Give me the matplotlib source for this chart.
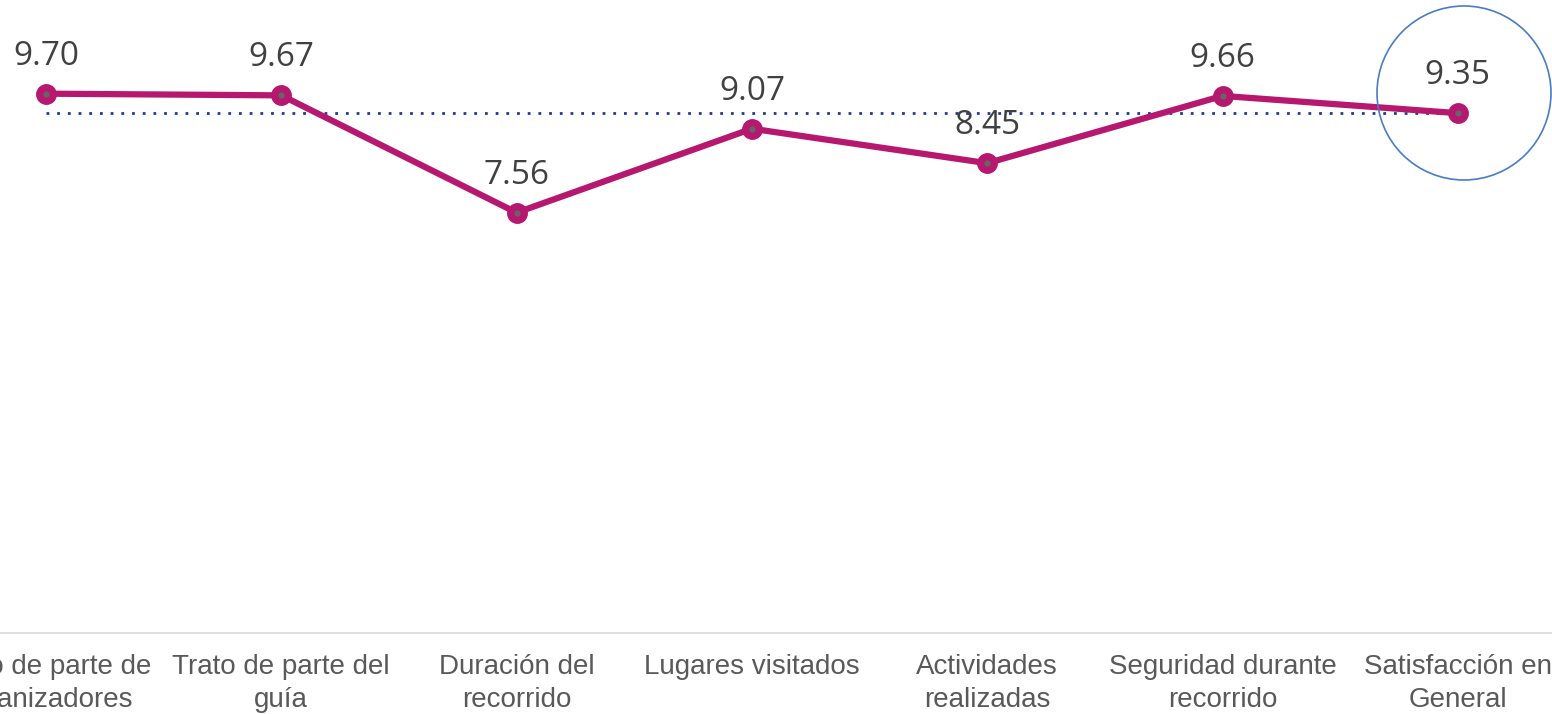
import numpy as np
import matplotlib.pyplot as plt
from matplotlib.patches import Circle

# datos
categorias = ["Trato de parte de\norganizadores", "Trato de parte del\nguía",
              "Duración del\nrecorrido", "Lugares visitados",
              "Actividades\nrealizadas", "Seguridad durante\nrecorrido",
              "Satisfacción en\nGeneral"]
valores = [9.70, 9.67, 7.56, 9.07, 8.45, 9.66, 9.35]
promedio = [9.35] * len(categorias)

W, H = 1552, 714
fig = plt.figure(figsize=(W / 100, H / 100), dpi=100)

# posiciones en pixeles: categoria 0 en x=46, paso 235.3; y=0 en 633, 55.6 px por unidad
paso = 235.3
x0 = 46 - paso / 2
ancho = paso * len(categorias)
y_base = 633
px_u = 55.6
ymax = 12
alto = ymax * px_u
ax = fig.add_axes([x0 / W, (H - y_base) / H, ancho / W, alto / H])
ax.set_xlim(-0.5, len(categorias) - 0.5)
ax.set_ylim(0, ymax)

x = np.arange(len(categorias))
color = "#B5186E"

ax.plot(x, promedio, color="#1F3A8F", lw=2.0, linestyle=(0, (1, 2.85)),
        dash_capstyle="butt", zorder=2)
ax.plot(x, valores, color=color, lw=4.5, marker="o", markersize=14,
        markerfacecolor=color, markeredgecolor=color, zorder=3,
        solid_capstyle="round")
ax.plot(x, valores, linestyle="none", marker="o", markersize=3.5,
        color="#666666", zorder=4)

for xi, v in zip(x, valores):
    ax.annotate(f"{v:.2f}", (xi, v), xytext=(0, 27), textcoords="offset points",
                ha="center", va="center", fontsize=24, color="#404040",
                family="Open Sans")

# circulo alrededor del ultimo punto
circ = Circle((14.64, (H - 93) / 100), 0.87, transform=fig.dpi_scale_trans,
              fill=False, edgecolor="#4A7CC4", lw=1.2)
fig.patches.append(circ)

ax.set_xticks(x)
ax.set_xticklabels(categorias, fontsize=20, color="#595959",
                   family="Liberation Sans", linespacing=1.35)
ax.tick_params(axis="x", length=0, pad=15)
ax.set_yticks([])
for s in ["top", "left", "right"]:
    ax.spines[s].set_visible(False)
ax.spines["bottom"].set_color("#D9D9D9")
ax.spines["bottom"].set_linewidth(1.2)

fig.savefig("out.png", dpi=100)
